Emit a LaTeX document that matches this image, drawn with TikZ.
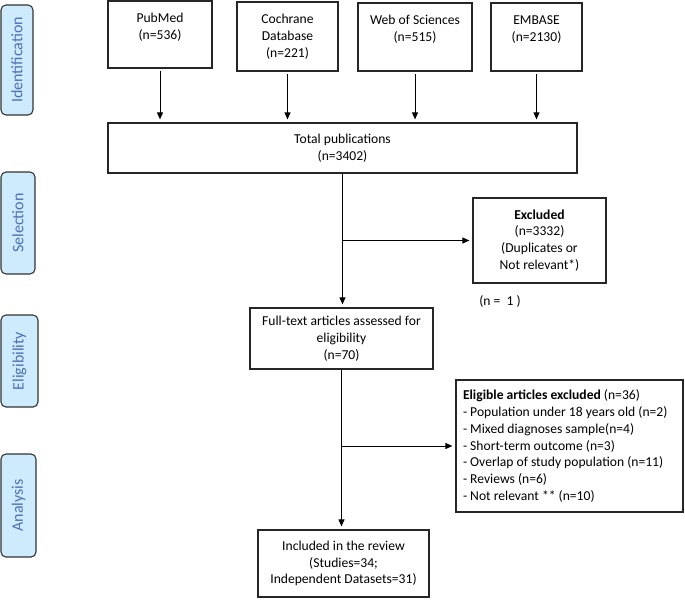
\documentclass[tikz,border=0pt]{standalone}
\usepackage{fontspec}
\setmainfont{Carlito}
\usetikzlibrary{arrows.meta}
\definecolor{phasefill}{HTML}{CDEBFC}
\definecolor{phasetext}{HTML}{4D6FB4}
\tikzset{
  box/.style={draw=black!85, line width=1.2pt, align=center, inner sep=0pt},
  phase/.style={draw=black!80, line width=1.1pt, fill=phasefill, rounded corners=5pt, rotate=90, text=phasetext, font=\fontsize{16}{19}\selectfont, inner sep=0pt},
  arr/.style={line width=0.9pt, -{Triangle[length=7pt,width=6pt]}, shorten >=3pt},
}

\begin{document}
\begin{tikzpicture}[x=1pt, y=-1pt, font=\fontsize{13.6}{16.8}\selectfont]
			%%%%% START %%%%%
			\useasboundingbox (0,0) rectangle (685,603);
			
			\node[phase, minimum width=110pt, minimum height=32pt] (ident) at (17,60) {Identification};
			\node[phase, minimum width=102pt, minimum height=34pt] (select) at (18,223) {Selection};
			\node[phase, minimum width=92pt, minimum height=37pt] (elig) at (19.5,361) {Eligibility};
			\node[phase, minimum width=103pt, minimum height=35pt] (analysis) at (18.5,505.5) {Analysis};
			
			\node[box, minimum width=104pt, minimum height=67pt] (pubmed) at (160,34.5) {PubMed\\(n=536)\\\mbox{}};
			\node[box, minimum width=101pt, minimum height=69pt] (cochrane) at (287.5,36.5) {Cochrane\\Database\\(n=221)};
			\node[box, minimum width=114pt, minimum height=68pt] (wos) at (415,37) {Web of Sciences\\(n=515)\\\mbox{}};
			\node[box, minimum width=91pt, minimum height=68pt] (embase) at (536.5,37) {EMBASE\\(n=2130)\\\mbox{}};
			
			\node[box, minimum width=469pt, minimum height=50pt] (total) at (342.5,148) {Total publications\\(n=3402)};
			\node[box, minimum width=133pt, minimum height=85pt] (excluded) at (539.5,240.5) {\textbf{Excluded}\\(n=3332)\\(Duplicates or\\Not relevant*)};
			\node (nlost) at (500,301) {(n =\ \ 1\ )};
			
			\node[box, minimum width=183pt, minimum height=61pt] (fulltext) at (341.5,338.5) {Full-text articles assessed for\\eligibility\\(n=70)};
			\node[box, align=flush left, text width=213pt, minimum height=132pt, inner xsep=7pt] (eligible) at (569.5,446) {\textbf{Eligible articles excluded} (n=36)\\- Population under 18 years old (n=2)\\- Mixed diagnoses sample(n=4)\\- Short-term outcome (n=3)\\- Overlap of study population (n=11)\\- Reviews (n=6)\\- Not relevant ** (n=10)};
			
			\node[box, minimum width=171pt, minimum height=67pt] (included) at (343.5,563.5) {Included in the review\\(Studies=34;\\Independent Datasets=31)};
			
			\foreach \src in {pubmed,cochrane,wos,embase}
				\draw[arr, shorten <=2pt] (\src.south) -- (\src.south |- total.north);
			
			\coordinate (selsplit) at (total.south |- excluded.west);
			\draw[arr] (total.south) -- (total.south |- fulltext.north);
			\draw[arr] (selsplit) -- (excluded.west);
			
			\coordinate (eligsplit) at (fulltext.south |- eligible.west);
			\draw[arr] (fulltext.south) -- (fulltext.south |- included.north);
			\draw[arr] (eligsplit) -- (eligible.west);
			
			%%%%% END %%%%%
\end{tikzpicture}
\end{document}
